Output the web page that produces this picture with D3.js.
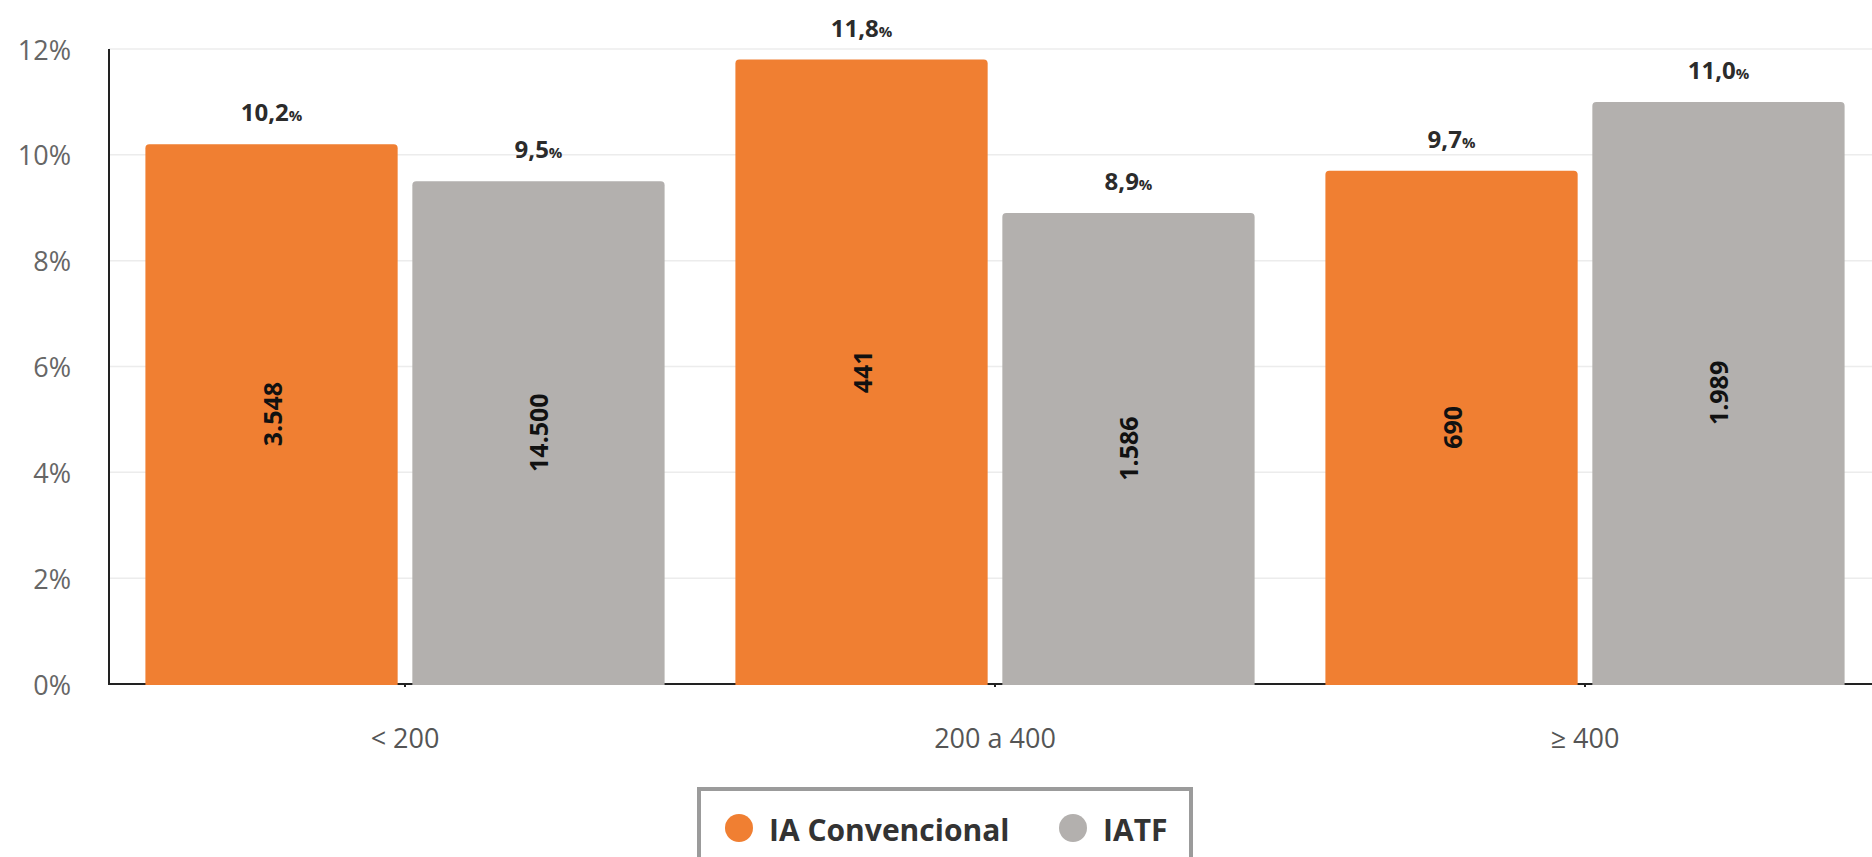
<!DOCTYPE html>
<html>
<head>
<meta charset="utf-8">
<script src="https://cdn.jsdelivr.net/npm/d3@7"></script>
<style>
  html, body { margin: 0; padding: 0; background: #fff; }
  svg { display: block; font-family: "Open Sans", "Noto Sans", sans-serif; }
</style>
</head>
<body>
<svg id="chart" width="1872" height="857"></svg>
<script>
// Categories (size class) and the two insemination protocols
const categories = ["< 200", "200 a 400", "≥ 400"];
const seriesNames = ["IA Convencional", "IATF"];
const seriesColors = ["#F07F32", "#B3B0AE"];

// Rate (%) per category, one array per series
const rateIA = [10.2, 11.8, 9.7];
const rateIATF = [9.5, 8.9, 11.0];

// Number of animals per bar
const countIA = [3548, 441, 690];
const countIATF = [14500, 1586, 1989];

// Y axis ticks
const yTicks = [0, 2, 4, 6, 8, 10, 12];
const yTickLabels = ["0%", "2%", "4%", "6%", "8%", "10%", "12%"];

const rates = [rateIA, rateIATF];
const counts = [countIA, countIATF];

const ptBR = d3.formatLocale({ decimal: ",", thousands: ".", grouping: [3], currency: ["R$", ""] });
const fmtRate = ptBR.format(".1f");
const fmtCount = ptBR.format(",d");

const svg = d3.select("#chart");
const W = 1872;
const axisX = 109;

const x0 = d3.scaleBand().domain(categories).range([110, 1880]).paddingInner(0.12).paddingOuter(0.06);
const x1 = d3.scaleBand().domain(d3.range(seriesNames.length)).range([0, x0.bandwidth()]).paddingInner(0.055);
const y = d3.scaleLinear().domain([0, 12]).range([684, 49]);

// Horizontal gridlines
svg.append("g")
  .selectAll("line")
  .data(yTicks)
  .join("line")
  .attr("x1", axisX).attr("x2", W)
  .attr("y1", d => y(d)).attr("y2", d => y(d))
  .attr("stroke", "#ececec")
  .attr("stroke-width", 1.5);

// Y tick labels
svg.append("g")
  .selectAll("text")
  .data(yTicks)
  .join("text")
  .attr("x", 71)
  .attr("y", d => y(d))
  .attr("text-anchor", "end")
  .attr("dominant-baseline", "central")
  .attr("font-size", 27)
  .attr("fill", "#666")
  .text((d, i) => yTickLabels[i]);

// Baseline under the bars
svg.append("line")
  .attr("x1", axisX).attr("x2", W)
  .attr("y1", y(0)).attr("y2", y(0))
  .attr("stroke", "#222").attr("stroke-width", 2);

// Y axis line
svg.append("line")
  .attr("x1", axisX).attr("x2", axisX)
  .attr("y1", y(12)).attr("y2", y(0) + 1)
  .attr("stroke", "#222").attr("stroke-width", 2);

// X axis (small ticks, category labels)
const xAxis = svg.append("g")
  .attr("transform", `translate(0,${y(0)})`)
  .call(d3.axisBottom(x0).tickSize(3).tickSizeOuter(0).tickPadding(42));
xAxis.select(".domain").remove();
xAxis.selectAll(".tick line").attr("stroke", "#222").attr("stroke-width", 2);
xAxis.selectAll(".tick text")
  .attr("font-size", 27)
  .attr("fill", "#555")
  .attr("font-family", "'Open Sans', 'Noto Sans', sans-serif");

// Flatten into bar records
const bars = [];
categories.forEach((c, ci) => {
  seriesNames.forEach((s, si) => {
    bars.push({ cat: c, si, rate: rates[si][ci], count: counts[si][ci] });
  });
});

const barX = d => x0(d.cat) + x1(d.si);
const bw = x1.bandwidth();

// Bars (rounded top corners)
svg.append("g")
  .selectAll("path")
  .data(bars)
  .join("path")
  .attr("fill", d => seriesColors[d.si])
  .attr("d", d => {
    const xL = barX(d), xR = xL + bw, yT = y(d.rate), yB = y(0) + 1, r = 4;
    return `M${xL},${yB} L${xL},${yT + r} Q${xL},${yT} ${xL + r},${yT} L${xR - r},${yT} Q${xR},${yT} ${xR},${yT + r} L${xR},${yB} Z`;
  });

// Rate labels above bars
const rateLabels = svg.append("g")
  .selectAll("text")
  .data(bars)
  .join("text")
  .attr("x", d => barX(d) + bw / 2)
  .attr("y", d => y(d.rate) - 23)
  .attr("text-anchor", "middle")
  .attr("font-weight", 700)
  .attr("font-size", 24)
  .attr("fill", "#2b2b2b");
rateLabels.append("tspan").text(d => fmtRate(d.rate));
rateLabels.append("tspan").attr("font-size", 15).text("%");

// Counts inside bars, rotated
svg.append("g")
  .selectAll("text")
  .data(bars)
  .join("text")
  .attr("transform", d => `translate(${barX(d) + bw / 2},${(y(d.rate) + y(0)) / 2}) rotate(-90)`)
  .attr("text-anchor", "middle")
  .attr("dominant-baseline", "central")
  .attr("font-weight", 700)
  .attr("font-size", 25)
  .attr("fill", "#111")
  .text(d => fmtCount(d.count));

// Legend
const lg = svg.append("g");
lg.append("rect")
  .attr("x", 699).attr("y", 789)
  .attr("width", 492).attr("height", 100)
  .attr("fill", "#fff")
  .attr("stroke", "#9b9b9b").attr("stroke-width", 4);
const legendX = [739, 1073];
seriesNames.forEach((s, i) => {
  lg.append("circle")
    .attr("cx", legendX[i]).attr("cy", 828).attr("r", 14)
    .attr("fill", seriesColors[i]);
  lg.append("text")
    .attr("x", legendX[i] + 30).attr("y", 829)
    .attr("dominant-baseline", "central")
    .attr("font-weight", 700)
    .attr("font-size", 30)
    .attr("fill", "#333")
    .text(s);
});
</script>
</body>
</html>
